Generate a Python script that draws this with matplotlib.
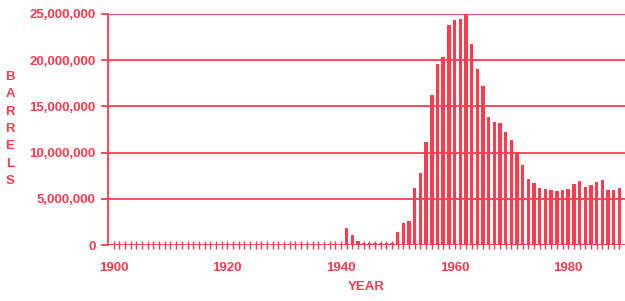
import numpy as np
import matplotlib
matplotlib.use("Agg")
import matplotlib.pyplot as plt

RED = "#ff3b4e"

years = list(range(1900, 1990))
# barrels per year, in millions
early = [0.0] * 41  # 1900-1940
barrels_1940s = [1.8, 1.1, 0.45, 0.25, 0.22, 0.2, 0.18, 0.18, 0.2]  # 1941-1949
barrels_1950s = [1.37, 2.4, 2.55, 6.2, 7.75, 11.1, 16.2, 19.6, 20.3, 23.8]
barrels_1960s = [24.4, 24.5, 25.0, 21.8, 19.1, 17.2, 13.9, 13.35, 13.2, 12.2]
barrels_1970s = [11.4, 10.1, 8.7, 7.15, 6.7, 6.2, 6.05, 6.0, 5.85, 5.95]
barrels_1980s = [6.1, 6.65, 6.9, 6.25, 6.5, 6.85, 7.0, 6.0, 6.0, 6.15]

barrels = np.array(early + barrels_1940s + barrels_1950s + barrels_1960s
                   + barrels_1970s + barrels_1980s) * 1e6

y_ticks = [0, 5e6, 10e6, 15e6, 20e6, 25e6]
y_labels = ["0", "5,000,000", "10,000,000", "15,000,000", "20,000,000", "25,000,000"]
x_ticks = [1900, 1920, 1940, 1960, 1980]

plt.rcParams["font.family"] = ["Liberation Sans", "DejaVu Sans"]
FS = 9.5

fig = plt.figure(figsize=(6.25, 3.01), dpi=100)
ax = fig.add_axes([0.1728, 0.186, 1.0 - 0.1728, 0.9535 - 0.186])

for y in y_ticks[1:]:
    ax.axhline(y, color=RED, lw=1.3, zorder=1)
ax.axhline(0, color=RED, lw=1.3, zorder=3)

ax.bar(years, barrels, width=0.6, color=RED, zorder=2)

ax.set_xlim(1899.0, 1990.0)
ax.set_ylim(0, 25e6)

ax.set_yticks(y_ticks)
ax.set_yticklabels(y_labels)
ax.set_xticks(x_ticks)
ax.set_xticklabels([str(x) for x in x_ticks])
ax.set_xticks(years, minor=True)

ax.tick_params(axis="y", colors=RED, length=5, width=1.3, labelsize=FS, pad=4)
ax.tick_params(axis="x", which="both", colors=RED, direction="inout",
               length=6, width=1.0, labelsize=FS, pad=9)

for lab in ax.get_xticklabels() + ax.get_yticklabels():
    lab.set_fontweight("bold")

for side in ["top", "right", "bottom"]:
    ax.spines[side].set_visible(False)
ax.spines["left"].set_color(RED)
ax.spines["left"].set_linewidth(1.3)

fig.text(366 / 625, 1 - 287 / 301, "YEAR", color=RED, fontsize=FS,
         fontweight="bold", ha="center", va="center")
fig.text(10 / 625, 1 - 129 / 301, "B\nA\nR\nR\nE\nL\nS", color=RED,
         fontsize=FS, fontweight="bold", ha="center", va="center",
         linespacing=1.6)

fig.savefig("out.png", dpi=100)
